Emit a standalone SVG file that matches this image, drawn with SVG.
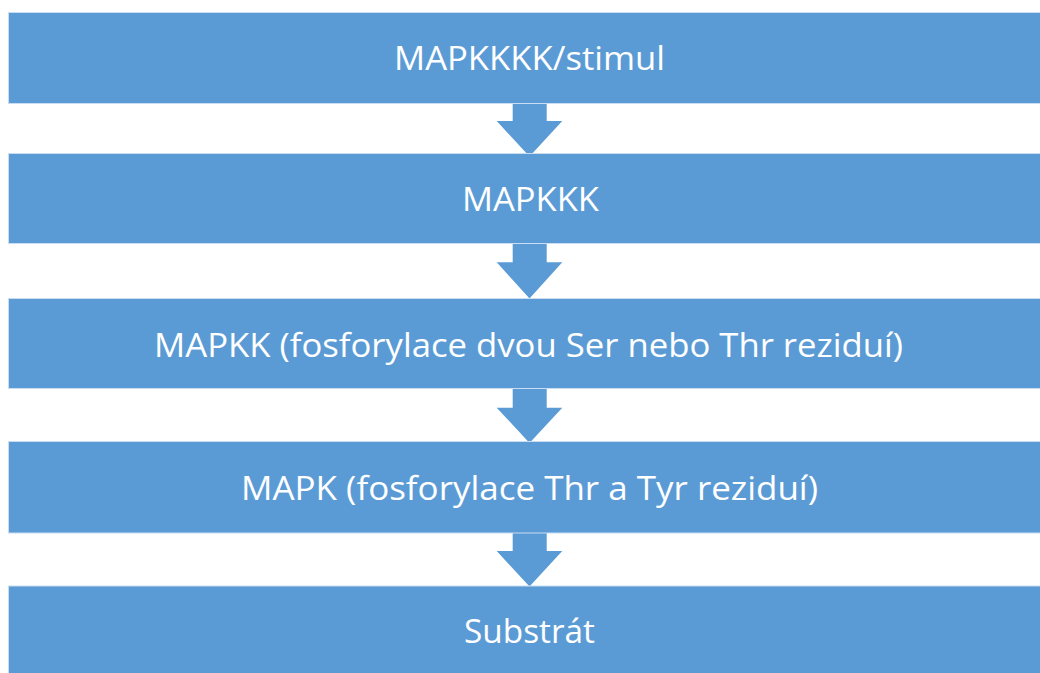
<svg xmlns="http://www.w3.org/2000/svg" width="1040" height="673" viewBox="0 0 1040 673">
  <style>
    .box { fill: #5B9BD5; stroke: #C9DCF0; stroke-width: 1; }
    .arrow { fill: #5B9BD5; stroke: none; }
    .lbl { fill: #FFFFFF; font-family: "Open Sans", "Liberation Sans", sans-serif; font-size: 32px; text-anchor: middle; }
  </style>
  <rect width="1040" height="673" fill="#FFFFFF"/>
  <g id="connectors">
    <polygon class="arrow" points="512.7,100 546.7,100 546.7,121 562.3,121 529.5,156.5 496.7,121 512.7,121"/>
    <polygon class="arrow" points="512.7,240 546.7,240 546.7,262.3 562.3,262.3 529.5,298.5 496.7,262.3 512.7,262.3"/>
    <polygon class="arrow" points="512.7,385 546.7,385 546.7,407.7 562.3,407.7 529.5,443 496.7,407.7 512.7,407.7"/>
    <polygon class="arrow" points="512.7,530 546.7,530 546.7,551 562.3,551 529.5,586.5 496.7,551 512.7,551"/>
  </g>
  <g id="node1">
    <rect class="box" x="8.5" y="12.5" width="1045" height="91"/>
    <text class="lbl" x="529.5" y="70" textLength="271" lengthAdjust="spacingAndGlyphs">MAPKKKK/stimul</text>
  </g>
  <g id="node2">
    <rect class="box" x="8.5" y="153.5" width="1045" height="90"/>
    <text class="lbl" x="530.5" y="211" textLength="137" lengthAdjust="spacingAndGlyphs">MAPKKK</text>
  </g>
  <g id="node3">
    <rect class="box" x="8.5" y="298.5" width="1045" height="90"/>
    <text class="lbl" x="528.5" y="356.5" textLength="749" lengthAdjust="spacingAndGlyphs">MAPKK (fosforylace dvou Ser nebo Thr reziduí)</text>
  </g>
  <g id="node4">
    <rect class="box" x="8.5" y="441.5" width="1045" height="91.5"/>
    <text class="lbl" x="529.5" y="500" textLength="577" lengthAdjust="spacingAndGlyphs">MAPK (fosforylace Thr a Tyr reziduí)</text>
  </g>
  <g id="node5">
    <rect class="box" x="8.5" y="586" width="1045" height="100"/>
    <text class="lbl" x="529.5" y="643" textLength="131" lengthAdjust="spacingAndGlyphs">Substrát</text>
  </g>
</svg>
